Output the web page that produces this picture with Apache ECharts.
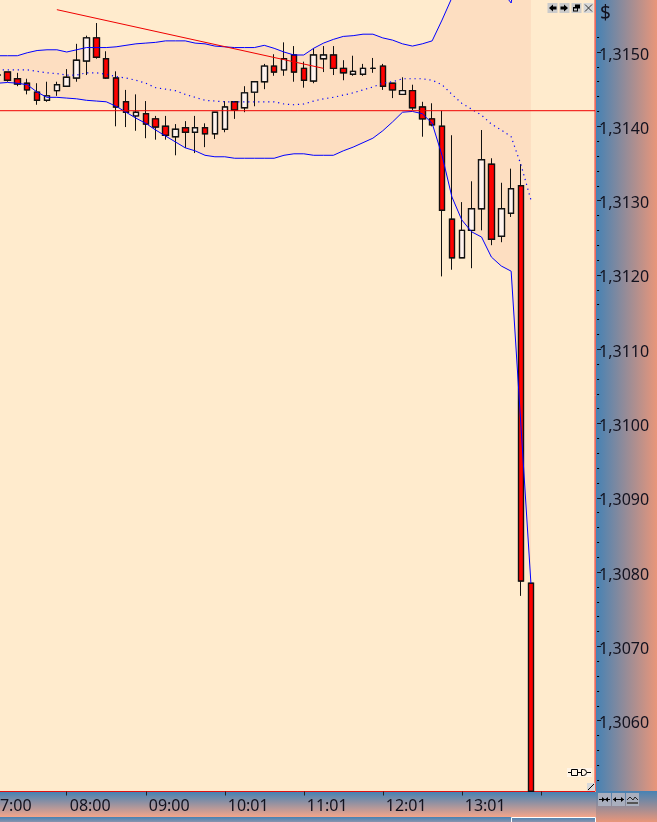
<!DOCTYPE html>
<html>
<head>
<meta charset="utf-8">
<style>html,body{margin:0;padding:0;background:#FFEBCD}#c{width:657px;height:822px}</style>
<script src="https://cdn.jsdelivr.net/npm/echarts@6/dist/echarts.min.js"></script>
</head>
<body>
<div id="c"></div>
<script>
// x tick labels, one per 8 bars
const tickLabels = ['07:00','08:00','09:00','10:01','11:01','12:01','13:01'];
const barsPerTick = 8;
const barCount = 62;
// OHLC, bar index 1 onward (index 0 is off the left edge)
const opens = [null,1.31469,1.31473,1.31464,1.31458,1.31446,1.31435,1.31448,1.31454,1.31465,1.31488,1.31519,1.31491,1.31465,1.31433,1.31414,1.31417,1.31410,1.31400,1.31386,1.31398,1.31392,1.31398,1.31390,1.31396,1.31433,1.31425,1.31446,1.31460,1.31481,1.31476,1.31496,1.31478,1.31461,1.31491,1.31496,1.31478,1.31470,1.31470,1.31478,1.31481,1.31458,1.31443,1.31448,1.31426,1.31410,1.31400,1.31275,1.31223,1.31260,1.31289,1.31349,1.31252,1.31283,1.31320,1.30785];
const closes = [null,1.31469,1.31462,1.31457,1.31449,1.31435,1.31441,1.31456,1.31466,1.31489,1.31519,1.31493,1.31465,1.31426,1.31419,1.31419,1.31403,1.31399,1.31388,1.31396,1.31392,1.31398,1.31390,1.31419,1.31426,1.31422,1.31445,1.31460,1.31481,1.31473,1.31491,1.31473,1.31462,1.31496,1.31496,1.31478,1.31472,1.31474,1.31478,1.31478,1.31454,1.31449,1.31448,1.31425,1.31410,1.31402,1.31287,1.31223,1.31260,1.31289,1.31355,1.31248,1.31289,1.31316,1.30788,1.30505];
const lows = [null,1.31462,1.31460,1.31454,1.31443,1.31429,1.31433,1.31441,1.31454,1.31460,1.31469,1.31491,1.31464,1.31400,1.31399,1.31394,1.31384,1.31382,1.31382,1.31361,1.31371,1.31364,1.31372,1.31383,1.31392,1.31410,1.31419,1.31427,1.31450,1.31468,1.31468,1.31460,1.31452,1.31458,1.31473,1.31469,1.31462,1.31468,1.31468,1.31472,1.31449,1.31438,1.31443,1.31422,1.31386,1.31400,1.31198,1.31207,1.31223,1.31209,1.31260,1.31240,1.31244,1.31278,1.30768,1.30505];
const highs = [null,1.31476,1.31473,1.31472,1.31464,1.31458,1.31460,1.31460,1.31477,1.31511,1.31522,1.31539,1.31501,1.31474,1.31449,1.31443,1.31434,1.31414,1.31414,1.31403,1.31407,1.31414,1.31404,1.31419,1.31434,1.31434,1.31454,1.31461,1.31484,1.31497,1.31513,1.31508,1.31487,1.31505,1.31508,1.31508,1.31489,1.31495,1.31484,1.31492,1.31484,1.31458,1.31466,1.31456,1.31433,1.31431,1.31421,1.31388,1.31298,1.31326,1.31395,1.31357,1.31324,1.31343,1.31349,1.30785];
// Bollinger bands
const upperBand = [1.31495,1.31495,1.31495,1.31495,1.31499,1.31502,1.31503,1.31503,1.31500,1.31503,1.31506,1.31506,1.31506,1.31507,1.31509,1.31511,1.31512,1.31513,1.31515,1.31515,1.31515,1.31512,1.31511,1.31508,1.31507,1.31506,1.31506,1.31506,1.31509,1.31505,1.31500,1.31496,1.31496,1.31505,1.31512,1.31517,1.31521,1.31522,1.31524,1.31524,1.31519,1.31516,1.31511,1.31508,1.31511,1.31515,1.31543,1.31573,1.31604,1.31631,1.31631,1.31617,1.31583,1.31566,1.31651,1.31839];
const lowerBand = [1.31458,1.31458,1.31459,1.31458,1.31456,1.31446,1.31439,1.31439,1.31438,1.31437,1.31435,1.31434,1.31433,1.31427,1.31419,1.31411,1.31404,1.31395,1.31387,1.31379,1.31371,1.31367,1.31361,1.31359,1.31359,1.31357,1.31357,1.31357,1.31357,1.31357,1.31361,1.31363,1.31363,1.31361,1.31361,1.31361,1.31367,1.31372,1.31378,1.31384,1.31394,1.31406,1.31419,1.31420,1.31417,1.31404,1.31361,1.31305,1.31274,1.31258,1.31251,1.31224,1.31212,1.31205,1.30995,1.30785];
const midBand = [1.31476,1.31476,1.31476,1.31476,1.31476,1.31474,1.31472,1.31471,1.31469,1.31469,1.31472,1.31472,1.31470,1.31467,1.31465,1.31462,1.31458,1.31452,1.31450,1.31448,1.31443,1.31439,1.31435,1.31434,1.31433,1.31433,1.31433,1.31433,1.31433,1.31433,1.31430,1.31429,1.31430,1.31434,1.31437,1.31439,1.31442,1.31445,1.31449,1.31453,1.31458,1.31460,1.31464,1.31464,1.31464,1.31462,1.31456,1.31443,1.31431,1.31423,1.31415,1.31403,1.31395,1.31386,1.31348,1.31301];
// drawn lines: [bar index, price]
const trendLine = [[7,1.31557],[34,1.31478]];
const levelLine = 1.31421;
// y axis
const majorTicks = [1.306,1.307,1.308,1.309,1.310,1.311,1.312,1.313,1.314,1.315];
const minorTicks = [1.3052,1.3054,1.3056,1.3058,1.3062,1.3064,1.3066,1.3068,1.3072,1.3074,1.3076,1.3078,1.3082,1.3084,1.3086,1.3088,1.3092,1.3094,1.3096,1.3098,1.3102,1.3104,1.3106,1.3108,1.3112,1.3114,1.3116,1.3118,1.3122,1.3124,1.3126,1.3128,1.3132,1.3134,1.3136,1.3138,1.3142,1.3144,1.3146,1.3148,1.3152];
const yMin = 1.305047, yMax = 1.315727;

const categories = Array.from({length: barCount}, (_, i) => i % barsPerTick === 0 ? (tickLabels[i / barsPerTick] || '') : '');
const candles = opens.map((o, i) => o === null ? '-' : [o, closes[i], lows[i], highs[i]]);
// same bars without wicks: bodies get the heavier outline
const bodies = opens.map((o, i) => o === null ? '-' : [o, closes[i], Math.min(o, closes[i]), Math.max(o, closes[i])]);
const bandHeight = upperBand.map((u, i) => +(u - lowerBand[i]).toFixed(5));
const isTick = i => i % barsPerTick === 0;
const priceFmt = v => v.toFixed(4).replace('.', ',');

const BG='#FFEBCD', FONT='"Noto Sans", sans-serif', TXT='#12121F';
const LG=(x,y,x2,y2,c0,c1)=>new echarts.graphic.LinearGradient(x,y,x2,y2,[{offset:0,color:c0},{offset:1,color:c1}]);
const rect=(x,y,w,h,fill,extra)=>Object.assign({type:'rect',silent:true,shape:{x,y,width:w,height:h},style:{fill}},extra||{});
const line=(a,b,c,d,s,w)=>({type:'line',silent:true,z:102,shape:{x1:a,y1:b,x2:c,y2:d},style:{stroke:s||'#000',lineWidth:w||1}});
const poly=(pts,fill)=>({type:'polygon',silent:true,z:102,shape:{points:pts},style:{fill:fill||'#000'}});
const btn=(x,y,w,h,f)=>rect(x,y,w,h,f,{z:101});
const graphics=[
  rect(596,0,61,791,LG(0,0,1,0,'#4682B4','#E9967A'),{z:-5}),
  rect(0,792,596,25,LG(0,0,0,1,'#4682B4','#F4A58A'),{z:-5}),
  rect(596,791,61,31,LG(0,0,0,1,'#4682B4','#E9967A'),{z:-5}),
  rect(0,817,596,5,LG(0,0,0,1,'#4682B4','#8A93AC'),{z:-5}),
  {type:'rect',silent:true,z:-4,shape:{x:511.5,y:817.5,width:84,height:10},style:{fill:'none',stroke:'#FFFFFF',lineWidth:1}},
  {type:'text',silent:true,z:100,x:600,y:4,style:{text:'$',font:'19px '+FONT,fill:TXT}},
  // window buttons
  btn(547.5,3,10,10,'#CBCBCB'),btn(559.5,3,10,10,'#CBCBCB'),btn(571.5,3,10,10,'#CBCBCB'),btn(583.5,3,10,10,'#D8D8D8'),
  poly([[549,8],[553,4.5],[553,6.5],[556.5,6.5],[556.5,9.5],[553,9.5],[553,11.5]]),
  poly([[568,8],[564,4.5],[564,6.5],[560.5,6.5],[560.5,9.5],[564,9.5],[564,11.5]]),
  rect(575,4.5,5,4,'#000',{z:102}),rect(573,7,5,4.5,'#000',{z:103}),rect(574,8.5,3,2,'#CBCBCB',{z:104}),
  line(585,4.5,592,11.5,'#333'),line(592,4.5,585,11.5,'#333'),
  // scale buttons
  btn(598,793,13,13,'#A9AFBE'),btn(612,793,13,13,'#A9AFBE'),btn(626,793,13,13,'#A9AFBE'),
  line(599,799.5,610,799.5),poly([[602,797],[605,799.5],[602,802]]),poly([[608,797],[605,799.5],[608,802]]),
  line(613,799.5,624,799.5),poly([[613,799.5],[616,797],[616,802]]),poly([[624,799.5],[621,797],[621,802]]),
  line(627,803,638,803,'#555',2),line(627,800,630,797,'#222'),line(630,797,633,800,'#222'),line(633,800,635,797,'#222'),line(635,797,638,800,'#222'),
  // connector icon
  rect(567,768,25,9,'#FFF4E6',{z:101}),
  line(568,772.5,571,772.5),line(578,772.5,581,772.5),line(587,772.5,591,772.5),
  {type:'rect',silent:true,z:102,shape:{x:571.5,y:769.5,width:6,height:6},style:{fill:'#FFF4E6',stroke:'#000',lineWidth:1}},
  {type:'rect',silent:true,z:102,shape:{x:581.5,y:769.5,width:5,height:6,r:[0,3,3,0]},style:{fill:'#FFF4E6',stroke:'#000',lineWidth:1}},
  // resize corner
  rect(587,783,8,8,'#D9D9D9',{z:101}),line(588,790,594,784,'#000',1)
];

const chart = echarts.init(document.getElementById('c'), null, {renderer:'canvas'});
chart.setOption({
  animation:false,
  backgroundColor:'transparent',
  textStyle:{fontFamily:FONT},
  graphic:{elements:graphics},
  grid:{show:true,left:-17.2,top:-2,width:612.3,height:793.5,outerBoundsMode:'none',containLabel:false,backgroundColor:BG,borderColor:'#E01010',borderWidth:1},
  xAxis:[{
    type:'category',data:categories,boundaryGap:true,
    axisLine:{show:false,onZero:false},
    axisTick:{show:true,alignWithLabel:true,interval:isTick,length:4,lineStyle:{color:'#222'}},
    axisLabel:{show:true,interval:isTick,align:'left',margin:3,padding:[4,0,0,3],fontSize:16,fontFamily:FONT,color:TXT,hideOverlap:false,showMinLabel:true},
    splitLine:{show:false}
  },{type:'value',show:false,min:0,max:1,splitLine:{show:false},axisLine:{onZero:false}}],
  yAxis:[
    {type:'value',position:'right',offset:2,min:yMin,max:yMax,scale:true,
      axisLine:{show:false,onZero:false},splitLine:{show:false},
      axisTick:{show:true,customValues:majorTicks,length:4,lineStyle:{color:'#12121F'}},
      axisLabel:{show:true,customValues:majorTicks,formatter:priceFmt,margin:2,fontSize:16,fontFamily:FONT,color:TXT,verticalAlign:'top',lineHeight:6}},
    {type:'value',position:'right',offset:2,min:yMin,max:yMax,scale:true,
      axisLine:{show:false,onZero:false},splitLine:{show:false},
      axisLabel:{show:false,customValues:minorTicks},
      axisTick:{show:true,customValues:minorTicks,length:2,lineStyle:{color:'#000',width:1}}}
  ],
  series:[
    {name:'bandBase',type:'line',data:lowerBand,stack:'band',symbol:'none',lineStyle:{width:0},silent:true,z:1},
    {name:'band',type:'line',data:bandHeight,stack:'band',symbol:'none',lineStyle:{width:0},areaStyle:{color:'#FDDEC1',opacity:1},silent:true,z:1},
    {name:'candles',type:'candlestick',data:candles,barWidth:6,silent:true,z:3,
      itemStyle:{color:'#FFF3EE',color0:'#FF0000',borderColor:'#111',borderColor0:'#111',borderColorDoji:'#111',borderWidth:1}},
    {name:'bodies',type:'candlestick',data:bodies,barWidth:6,silent:true,z:3,
      itemStyle:{color:'#FFF3EE',color0:'#FF0000',borderColor:'#111',borderColor0:'#111',borderColorDoji:'#111',borderWidth:1.4}},
    {name:'upper',type:'line',data:upperBand,symbol:'none',silent:true,z:4,lineStyle:{color:'#0000FF',width:1}},
    {name:'lower',type:'line',data:lowerBand,symbol:'none',silent:true,z:4,lineStyle:{color:'#0000FF',width:1}},
    {name:'mid',type:'line',data:midBand,symbol:'none',silent:true,z:5,lineStyle:{color:'#0000FF',width:1.2,type:[1.2,3.8]},
      markLine:{silent:true,symbol:'none',animation:false,label:{show:false},lineStyle:{color:'#F00000',width:1,type:'solid'},
        data:[[{coord:[trendLine[0][0],trendLine[0][1]]},{coord:[trendLine[1][0],trendLine[1][1]]}]]}},
    {name:'level',type:'line',xAxisIndex:1,yAxisIndex:0,data:[[0,levelLine],[1,levelLine]],symbol:'none',silent:true,z:6,lineStyle:{color:'#F00000',width:1}}
  ]
});
</script>
</body>
</html>
